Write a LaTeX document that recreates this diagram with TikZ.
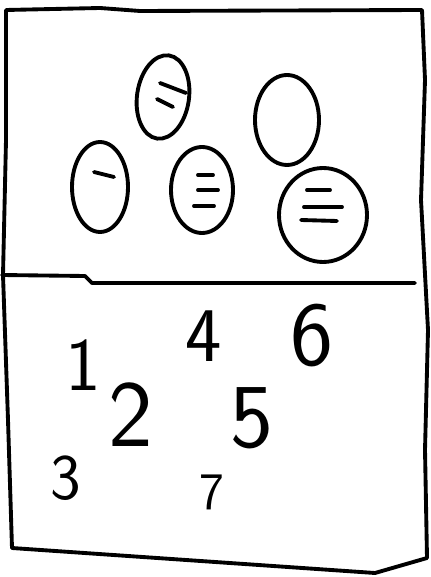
\documentclass[tikz,border=0pt]{standalone}
\usepackage{tikz}
\usetikzlibrary{shapes.geometric}
\tikzstyle{pen} = [draw, line width=2.2pt, line cap=round, line join=round]
\tikzstyle{blob} = [ellipse, draw, line width=2.2pt, inner sep=0pt]
\tikzset{digit/.style={inner sep=0pt, font=\sffamily\fontsize{#1}{#1}\selectfont}}

\begin{document}
\begin{tikzpicture}[x=0.02cm, y=-0.02cm]
    \useasboundingbox (0,0) rectangle (430,577);
    % Frame and divider
    \draw [pen] (6,10) -- (100,8) -- (140,11) -- (422,10) -- (425,80) -- (421,200) -- (428,330)
        -- (425,450) -- (427,558) -- (375,573) -- (12,548) -- (8,420) -- (3,275) -- (6,140) -- cycle;
    \draw [pen] (2,275) -- (85,276) -- (92,283) -- (415,283);

    % Nodes: upper part
    \node (top)   [blob, rotate=-8, minimum width=1.04cm, minimum height=1.68cm] at (163,97) {};
    \node (left)  [blob, minimum width=1.12cm, minimum height=1.8cm] at (100,187) {};
    \node (mid)   [blob, minimum width=1.24cm, minimum height=1.72cm] at (202,190) {};
    \node (upper) [blob, minimum width=1.28cm, minimum height=1.8cm] at (287,120) {};
    \node (lower) [blob, minimum width=1.76cm, minimum height=1.88cm] at (323,215) {};

    % Dashes in the blobs
    \draw [pen] (160,83) -- (186,93);
    \draw [pen] (157,99) -- (173,107);
    \draw [pen] (94,172) -- (114,177);
    \draw [pen] (198,175) -- (213,175);
    \draw [pen] (198,190) -- (218,190);
    \draw [pen] (194,206) -- (214,206);
    \draw [pen] (307,190) -- (330,190);
    \draw [pen] (304,207) -- (342,207);
    \draw [pen] (301,220) -- (337,221);

    % Nodes: lower part
    \node (one)   [digit=43] at (83,365) {1};
    \node (two)   [digit=54] at (131,415) {2};
    \node (three) [digit=37] at (66,478) {3};
    \node (four)  [digit=44] at (204,336) {4};
    \node (five)  [digit=52] at (252,418) {5};
    \node (six)   [digit=52] at (312,336) {6};
    \node (seven) [digit=30] at (212,492) {7};
\end{tikzpicture}
\end{document}
